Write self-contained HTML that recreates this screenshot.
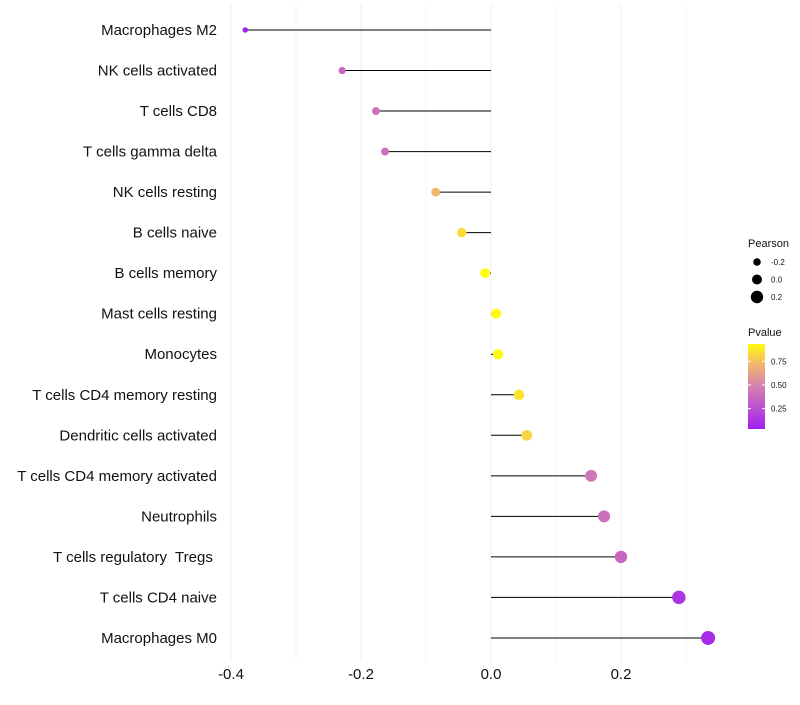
<!DOCTYPE html>
<html><head><meta charset="utf-8"><style>
body{margin:0;background:#fff;font-family:"Liberation Sans",sans-serif}
text{white-space:pre}
</style></head><body>
<svg id="c" width="800" height="700" xmlns="http://www.w3.org/2000/svg"></svg>
<script>
const categories=["Macrophages M2","NK cells activated","T cells CD8","T cells gamma delta","NK cells resting","B cells naive","B cells memory","Mast cells resting","Monocytes","T cells CD4 memory resting","Dendritic cells activated","T cells CD4 memory activated","Neutrophils","T cells regulatory  Tregs ","T cells CD4 naive","Macrophages M0"];
const pearson=[-0.378,-0.229,-0.177,-0.163,-0.085,-0.045,-0.009,0.008,0.011,0.043,0.055,0.154,0.174,0.200,0.289,0.334];
const pvalues=[0.05,0.38,0.42,0.42,0.72,0.85,0.95,0.98,0.95,0.87,0.82,0.45,0.42,0.38,0.15,0.10];
const xTicks=[-0.4,-0.2,0.0,0.2];
const xMinor=[-0.3,-0.1,0.1,0.3];
const pTicks=[0.25,0.5,0.75];
const pTickLabels=["0.25","0.50","0.75"];
const sizeLegend=[-0.2,0.0,0.2];

const svg=document.getElementById('c');const NS="http://www.w3.org/2000/svg";
function mk(t,a,p){const e=document.createElementNS(NS,t);for(const k in a)e.setAttribute(k,a[k]);(p||svg).appendChild(e);return e;}
const x=v=>491+v*650;
const y=i=>30+i*40.53;
const r=v=>5+6*v;
const pMin=0.05,pMax=0.94;
const stops=[[0,[160,32,240]],[0.5,[214,128,176]],[0.75,[240,180,112]],[1,[255,250,16]]];
function colT(t){t=Math.max(0,Math.min(1,t));for(let k=1;k<stops.length;k++){if(t<=stops[k][0]){const a=stops[k-1],b=stops[k];const u=(t-a[0])/(b[0]-a[0]);
return `rgb(${a[1].map((c,i)=>Math.round(c+(b[1][i]-c)*u)).join(',')})`;}}return 'rgb(255,250,16)';}
const col=p=>colT((p-pMin)/(pMax-pMin));
const py=p=>428-(p-0.045)*94.5;

const grid=mk('g',{});
xMinor.forEach(v=>mk('line',{x1:x(v),x2:x(v),y1:5,y2:662,stroke:'#f6f6f6','stroke-width':1},grid));
xTicks.forEach(v=>mk('line',{x1:x(v),x2:x(v),y1:5,y2:662,stroke:'#eeeeee','stroke-width':1},grid));

xTicks.forEach(v=>{const t=mk('text',{x:x(v),y:679,'text-anchor':'middle','font-size':15,fill:'#111'});t.textContent=v.toFixed(1);
});

categories.forEach((c,i)=>{
const t=mk('text',{x:217,y:y(i)+5,'text-anchor':'end','font-size':15,fill:'#111'});t.textContent=c;

const l=mk('line',{x1:x(0),x2:x(pearson[i]),y1:y(i),y2:y(i),stroke:'#000','stroke-width':1});

const d=mk('circle',{cx:x(pearson[i]),cy:y(i),r:r(pearson[i]),fill:col(pvalues[i])});

});

let t=mk('text',{x:748,y:247,'font-size':11,fill:'#111'});t.textContent='Pearson';

sizeLegend.forEach((v,i)=>{const cy=262+i*17.5;
const c=mk('circle',{cx:757,cy:cy,r:r(v),fill:'#000'});
const tt=mk('text',{x:771,y:cy+3,'font-size':8,fill:'#111'});tt.textContent=v.toFixed(1);
});
t=mk('text',{x:748,y:336,'font-size':11,fill:'#111'});t.textContent='Pvalue';

const defs=mk('defs',{});const g=mk('linearGradient',{id:'pg',x1:0,y1:1,x2:0,y2:0},defs);
stops.forEach(s=>mk('stop',{offset:s[0],'stop-color':colT(s[0])},g));
const bar=mk('rect',{x:748,y:344,width:17,height:85,fill:'url(#pg)'});
pTicks.forEach((p,i)=>{mk('line',{x1:748,x2:751,y1:py(p),y2:py(p),stroke:'#fff'});mk('line',{x1:762,x2:765,y1:py(p),y2:py(p),stroke:'#fff'});
const tt=mk('text',{x:771,y:py(p)+3,'font-size':8,fill:'#111'});tt.textContent=pTickLabels[i];
});
</script>
</body></html>
